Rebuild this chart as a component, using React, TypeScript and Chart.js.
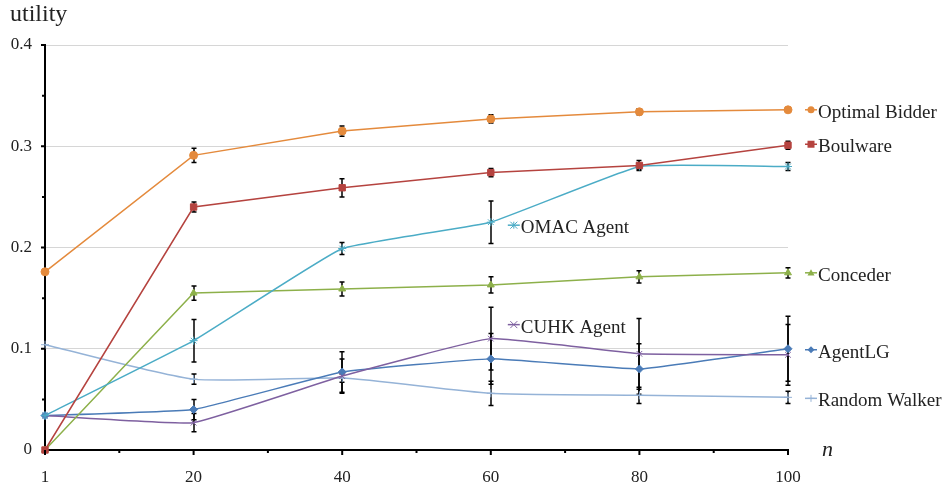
import React, { useEffect, useRef } from 'react';
import { Chart, registerables } from 'chart.js';

Chart.register(...registerables);

const categories = ['1', '20', '40', '60', '80', '100'];
const yTicks = [0, 0.1, 0.2, 0.3, 0.4];

const optimalBidder = [0.176, 0.291, 0.315, 0.327, 0.334, 0.336];
const optimalBidderErr = [0, 0.007, 0.005, 0.004, 0.003, 0.002];
const boulware = [0, 0.24, 0.259, 0.274, 0.281, 0.301];
const boulwareErr = [0, 0.005, 0.009, 0.004, 0.005, 0.004];
const omacAgent = [0.034, 0.108, 0.199, 0.225, 0.28, 0.28];
const omacAgentErr = [0, 0.021, 0.006, 0.021, 0.003, 0.004];
const conceder = [0, 0.155, 0.159, 0.163, 0.171, 0.175];
const concederErr = [0, 0.007, 0.007, 0.008, 0.006, 0.005];
const cuhkAgent = [0.034, 0.027, 0.073, 0.11, 0.095, 0.094];
const cuhkAgentErr = [0, 0.009, 0.017, 0.031, 0.035, 0.03];
const agentLG = [0.034, 0.04, 0.077, 0.09, 0.08, 0.1];
const agentLGErr = [0, 0.01, 0.02, 0.025, 0.025, 0.032];
const randomWalker = [0.104, 0.07, 0.071, 0.056, 0.054, 0.052];
const randomWalkerErr = [0, 0.005, 0.004, 0.012, 0.008, 0.006];

const seriesNames = ['Optimal Bidder', 'Boulware', 'OMAC Agent', 'Conceder', 'CUHK Agent', 'AgentLG', 'Random Walker'];
const seriesValues = [optimalBidder, boulware, omacAgent, conceder, cuhkAgent, agentLG, randomWalker];
const seriesErrors = [optimalBidderErr, boulwareErr, omacAgentErr, concederErr, cuhkAgentErr, agentLGErr, randomWalkerErr];
const seriesColors = ['#E48A3C', '#B5433F', '#4BACC6', '#8DB04A', '#7E60A0', '#4A7BB7', '#95B3D7'];
const seriesMarkers = ['circle', 'rect', 'star', 'triangle', 'crossRot', 'rectRot', 'cross'];
const seriesTension = [0, 0, 0.1, 0, 0.1, 0.1, 0.2];
// label anchor: category index and vertical offset (px)
const labelAnchor = [5, 5, 3, 5, 3, 5, 5];
const labelDy = [0, -1, 3, 0, -14, 1, 1];

const FONT = '"Liberation Serif", "Times New Roman", serif';

function drawMarker(ctx: CanvasRenderingContext2D, style: string, x: number, y: number, r: number, color: string) {
  ctx.save();
  ctx.fillStyle = color;
  ctx.strokeStyle = color;
  ctx.lineWidth = 1;
  ctx.beginPath();
  if (style === 'circle') {
    ctx.arc(x, y, r, 0, Math.PI * 2);
    ctx.fill();
  } else if (style === 'rect') {
    ctx.fillRect(x - r, y - r, 2 * r, 2 * r);
  } else if (style === 'triangle') {
    ctx.moveTo(x, y - r);
    ctx.lineTo(x + r, y + r * 0.8);
    ctx.lineTo(x - r, y + r * 0.8);
    ctx.closePath();
    ctx.fill();
  } else if (style === 'rectRot') {
    ctx.moveTo(x, y - r);
    ctx.lineTo(x + r, y);
    ctx.lineTo(x, y + r);
    ctx.lineTo(x - r, y);
    ctx.closePath();
    ctx.fill();
  } else if (style === 'cross') {
    ctx.moveTo(x - r, y); ctx.lineTo(x + r, y);
    ctx.moveTo(x, y - r); ctx.lineTo(x, y + r);
    ctx.stroke();
  } else if (style === 'crossRot') {
    ctx.moveTo(x - r, y - r); ctx.lineTo(x + r, y + r);
    ctx.moveTo(x - r, y + r); ctx.lineTo(x + r, y - r);
    ctx.stroke();
  } else if (style === 'star') {
    ctx.moveTo(x - r, y - r); ctx.lineTo(x + r, y + r);
    ctx.moveTo(x - r, y + r); ctx.lineTo(x + r, y - r);
    ctx.moveTo(x, y - r); ctx.lineTo(x, y + r);
    ctx.stroke();
  }
  ctx.restore();
}

const overlayPlugin = {
  id: 'overlay',
  beforeDatasetsDraw(chart: any) {
    const ctx: CanvasRenderingContext2D = chart.ctx;
    const ys = chart.scales.y;
    ctx.save();
    ctx.strokeStyle = '#000';
    ctx.lineWidth = 1.5;
    seriesValues.forEach((vals, i) => {
      const meta = chart.getDatasetMeta(i);
      meta.data.forEach((pt: any, j: number) => {
        const e = seriesErrors[i][j];
        if (!e) return;
        const top = ys.getPixelForValue(vals[j] + e);
        const bot = ys.getPixelForValue(vals[j] - e);
        const x = Math.round(pt.x);
        ctx.beginPath();
        ctx.moveTo(x, top); ctx.lineTo(x, bot);
        ctx.moveTo(x - 2.5, top); ctx.lineTo(x + 2.5, top);
        ctx.moveTo(x - 2.5, bot); ctx.lineTo(x + 2.5, bot);
        ctx.stroke();
      });
    });
    ctx.restore();
  },
  afterDraw(chart: any) {
    const ctx: CanvasRenderingContext2D = chart.ctx;
    const xs = chart.scales.x;
    const ys = chart.scales.y;
    const area = chart.chartArea;
    ctx.save();
    // axis tick marks
    ctx.strokeStyle = '#000';
    ctx.lineWidth = 2;
    ctx.beginPath();
    for (let i = 0; i < categories.length; i++) {
      const px = xs.getPixelForValue(i);
      ctx.moveTo(px, area.bottom); ctx.lineTo(px, area.bottom + 5);
      if (i < categories.length - 1) {
        const mx = (px + xs.getPixelForValue(i + 1)) / 2;
        ctx.moveTo(mx, area.bottom); ctx.lineTo(mx, area.bottom + 3);
      }
    }
    for (let k = 1; k < yTicks.length; k++) {
      const py = ys.getPixelForValue(yTicks[k]);
      const pm = ys.getPixelForValue((yTicks[k] + yTicks[k - 1]) / 2);
      ctx.moveTo(area.left, py); ctx.lineTo(area.left - 4, py);
      ctx.moveTo(area.left, pm); ctx.lineTo(area.left - 3, pm);
    }
    ctx.stroke();

    // titles
    ctx.fillStyle = '#222';
    ctx.textBaseline = 'alphabetic';
    ctx.textAlign = 'left';
    ctx.font = `24px ${FONT}`;
    ctx.fillText('utility', 10, 21);
    ctx.font = `italic 22px ${FONT}`;
    ctx.textBaseline = 'middle';
    ctx.fillText('n', 822, 450);

    // series labels
    ctx.font = `19px ${FONT}`;
    seriesNames.forEach((name, i) => {
      const meta = chart.getDatasetMeta(i);
      const pt = meta.data[labelAnchor[i]];
      const kx = pt.x + 23;
      const ky = pt.y + labelDy[i];
      ctx.save();
      ctx.strokeStyle = seriesColors[i];
      ctx.lineWidth = 1.5;
      ctx.beginPath();
      ctx.moveTo(kx - 6, ky); ctx.lineTo(kx + 6, ky);
      ctx.stroke();
      ctx.restore();
      drawMarker(ctx, seriesMarkers[i], kx, ky, 3.5, seriesColors[i]);
      ctx.fillStyle = '#222';
      ctx.textBaseline = 'middle';
      ctx.fillText(name, kx + 7, ky + 3);
    });
    ctx.restore();
  },
};

export default function App() {
  const canvasRef = useRef<HTMLCanvasElement | null>(null);

  useEffect(() => {
    const canvas = canvasRef.current;
    if (!canvas) return;
    Chart.defaults.font.family = FONT;
    const datasets = seriesNames.map((name, i) => ({
      label: name,
      data: seriesValues[i],
      borderColor: seriesColors[i],
      backgroundColor: seriesColors[i],
      borderWidth: 1.5,
      pointStyle: seriesMarkers[i] as any,
      pointRadius: seriesMarkers[i] === 'rect' ? 4.5 : 4,
      pointBorderWidth: 1,
      pointBackgroundColor: seriesColors[i],
      pointBorderColor: seriesColors[i],
      tension: seriesTension[i],
      clip: false as any,
    }));
    const chart = new Chart(canvas, {
      type: 'line',
      data: { labels: categories, datasets },
      options: {
        animation: false,
        responsive: false,
        events: [],
        layout: { padding: { left: 0, top: 45, right: 160, bottom: 0 } },
        plugins: { legend: { display: false }, tooltip: { enabled: false }, title: { display: false } },
        scales: {
          x: {
            type: 'category',
            offset: false,
            grid: { display: false, drawTicks: false },
            border: { display: true, color: '#000', width: 2 },
            ticks: { padding: 17, color: '#222', font: { size: 17, family: FONT }, maxRotation: 0, autoSkip: false },
            afterFit: (s: any) => { s.height = 37; },
          },
          y: {
            min: 0,
            max: 0.4,
            grid: {
              drawTicks: false,
              color: (c: any) => (c.tick && c.tick.value === 0 ? 'rgba(0,0,0,0)' : '#d6d6d6'),
              lineWidth: 1,
            },
            border: { display: true, color: '#000', width: 2 },
            ticks: { stepSize: 0.1, padding: 13, color: '#222', font: { size: 17, family: FONT } },
            afterFit: (s: any) => { s.width = 45; },
          },
        },
      },
      plugins: [overlayPlugin],
    });
    return () => chart.destroy();
  }, []);

  return (
    <div style={{ position: 'fixed', left: 0, top: 0, width: 948, height: 487, background: '#fff' }}>
      <canvas ref={canvasRef} width={948} height={487} style={{ width: 948, height: 487, display: 'block' }} />
    </div>
  );
}
